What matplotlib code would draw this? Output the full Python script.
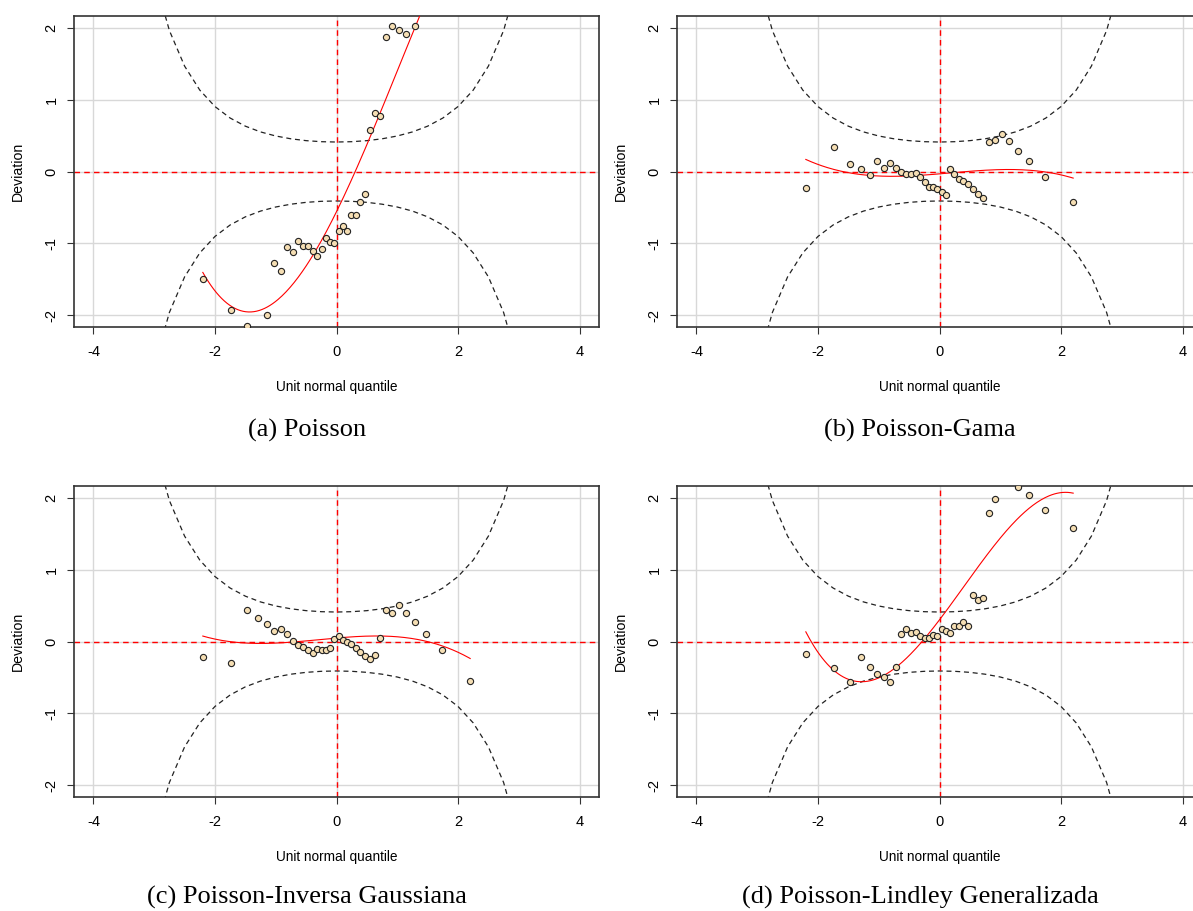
import math
import numpy as np
import matplotlib
matplotlib.use("Agg")
import matplotlib.pyplot as plt

plt.rcParams["axes.unicode_minus"] = False

# unit normal quantiles (36 residuals), shared by the four worm plots
qx = [-2.200, -1.732, -1.480, -1.298, -1.150, -1.025, -0.913, -0.812, -0.719,
      -0.631, -0.549, -0.470, -0.393, -0.319, -0.246, -0.175, -0.105, -0.035,
      0.035, 0.105, 0.175, 0.246, 0.319, 0.393, 0.470, 0.549, 0.631, 0.719,
      0.812, 0.913, 1.025, 1.150, 1.298, 1.480, 1.732, 2.200]

# deviations (points beyond the y-range are estimates)
dev_poisson = [-1.50, -1.92, -2.15, -2.50, -2.00, -1.27, -1.38, -1.05, -1.12,
               -0.96, -1.03, -1.03, -1.11, -1.17, -1.07, -0.93, -0.985, -1.00,
               -0.82, -0.76, -0.82, -0.60, -0.61, -0.42, -0.31, 0.57, 0.81, 0.77,
               1.87, 2.02, 1.97, 1.91, 2.02, 2.60, 2.90, 3.30]
dev_gama = [-0.23, 0.34, 0.10, 0.04, -0.05, 0.14, 0.05, 0.12, 0.05,
            0.00, -0.03, -0.04, -0.015, -0.08, -0.15, -0.21, -0.22, -0.25,
            -0.29, -0.32, 0.03, -0.04, -0.10, -0.135, -0.17, -0.25, -0.31, -0.37,
            0.405, 0.44, 0.52, 0.43, 0.28, 0.14, -0.08, -0.42]
dev_ig = [-0.21, -0.30, 0.44, 0.33, 0.24, 0.14, 0.18, 0.10, 0.01,
          -0.05, -0.08, -0.12, -0.16, -0.11, -0.115, -0.115, -0.085, 0.03,
          0.075, 0.025, -0.01, -0.04, -0.09, -0.145, -0.195, -0.24, -0.19, 0.05,
          0.44, 0.40, 0.51, 0.40, 0.265, 0.10, -0.12, -0.55]
dev_lindley = [-0.18, -0.37, -0.56, -0.22, -0.35, -0.45, -0.50, -0.56, -0.35,
               0.10, 0.17, 0.125, 0.135, 0.08, 0.05, 0.05, 0.09, 0.08,
               0.17, 0.145, 0.125, 0.22, 0.21, 0.27, 0.21, 0.64, 0.57, 0.60,
               1.79, 1.98, 2.30, 2.40, 2.15, 2.03, 1.83, 1.58]

captions = ["(a) Poisson", "(b) Poisson-Gama",
            "(c) Poisson-Inversa Gaussiana", "(d) Poisson-Lindley Generalizada"]
series = [dev_poisson, dev_gama, dev_ig, dev_lindley]

W, H = 1193, 911
# axes boxes in pixels: left, top, right, bottom
boxes = [(74, 16, 599, 327), (677, 16, 1202, 327),
         (74, 486, 599, 797), (677, 486, 1202, 797)]
cap_pos = [(307, 430), (920, 430), (307, 897), (920, 897)]

fig = plt.figure(figsize=(W / 100, H / 100), dpi=100)
sans = ["Liberation Sans", "DejaVu Sans"]
serif = ["Liberation Serif", "DejaVu Serif"]

# 95% confidence band of the worm plot
z = np.arange(-4, 4.001, 0.25)
p = np.array([0.5 * (1 + math.erf(v / math.sqrt(2))) for v in z])
dn = np.exp(-z ** 2 / 2) / math.sqrt(2 * math.pi)
se = (1 / dn) * np.sqrt(p * (1 - p) / len(qx))
high = 1.959964 * se

for box, dev, cap, cp in zip(boxes, series, captions, cap_pos):
    l, t, r, b = box
    ax = fig.add_axes([l / W, 1 - b / H, (r - l) / W, (b - t) / H])
    ax.set_xlim(-4.32, 4.32)
    ax.set_ylim(-2.16, 2.16)
    for g in [-4, -2, 0, 2, 4]:
        ax.axvline(g, color="#d8d8d8", lw=1.0, zorder=0)
    for g in [-2, -1, 0, 1, 2]:
        ax.axhline(g, color="#d8d8d8", lw=1.0, zorder=0)
    ax.plot(z, high, color="#222222", lw=0.9, ls=(0, (4, 3)), zorder=1)
    ax.plot(z, -high, color="#222222", lw=0.9, ls=(0, (4, 3)), zorder=1)
    ax.axhline(0, color="red", lw=1.0, ls=(0, (4, 3)), zorder=2)
    ax.axvline(0, color="red", lw=1.0, ls=(0, (4, 3)), zorder=2)

    x = np.array(qx)
    y = np.array(dev)
    coef = np.polyfit(x, y, 3)
    xs = np.linspace(x.min(), x.max(), 200)
    ax.plot(xs, np.polyval(coef, xs), color="red", lw=0.8, zorder=3)
    ax.scatter(x, y, s=20, c="wheat", edgecolors="#222222", linewidths=0.8, zorder=4)

    ax.set_xticks([-4, -2, 0, 2, 4])
    ax.set_yticks([-2, -1, 0, 1, 2])
    ax.tick_params(axis="x", length=5, width=0.8, pad=8, labelsize=10.5, color="#333333")
    ax.tick_params(axis="y", length=5, width=0.8, pad=6, labelsize=10.5, color="#333333",
                   labelrotation=90)
    for lab in ax.get_xticklabels() + ax.get_yticklabels():
        lab.set_family(sans)
    for lab in ax.get_yticklabels():
        lab.set_va("center")
    for s in ax.spines.values():
        s.set_color("#333333")
        s.set_linewidth(1.2)

    fig.text((l + r) / 2 / W, 1 - 387 / H if t < 100 else 1 - 857 / H,
             "Unit normal quantile", ha="center", va="center", fontsize=9.8, family=sans)
    fig.text((l - 56) / W, 1 - (t + b) / 2 / H, "Deviation", rotation=90,
             ha="center", va="center", fontsize=10.2, family=sans)
    fig.text(cp[0] / W, 1 - cp[1] / H, cap, ha="center", va="center",
             fontsize=19, family=serif)

fig.savefig("out.png", dpi=100)
